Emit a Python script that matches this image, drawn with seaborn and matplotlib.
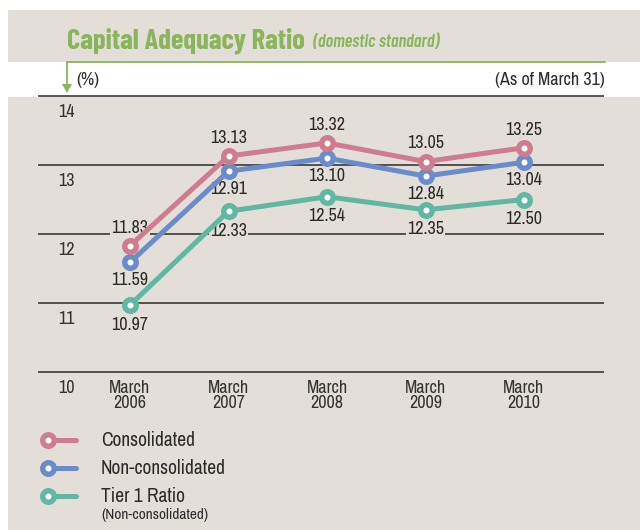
import matplotlib as mpl
import matplotlib.pyplot as plt
import seaborn as sns
import pandas as pd
from matplotlib.lines import Line2D
from matplotlib.patches import Rectangle, Polygon

# values
years = ['March\n2006', 'March\n2007', 'March\n2008', 'March\n2009', 'March\n2010']
consolidated = [11.83, 13.13, 13.32, 13.05, 13.25]
non_consolidated = [11.59, 12.91, 13.10, 12.84, 13.04]
tier1 = [10.97, 12.33, 12.54, 12.35, 12.50]
yticks = [10, 11, 12, 13, 14]

SERIES = ['Consolidated', 'Non-consolidated', 'Tier 1 Ratio']
COLORS = {'Consolidated': '#CF7C8F', 'Non-consolidated': '#6B8BCB', 'Tier 1 Ratio': '#60B7A3'}
BG = '#E3DFD8'
GREEN = '#8AB55C'
TXT = '#2B2B2B'

sns.set_style('white')
plt.rcParams['font.family'] = ['Archivo Narrow', 'DejaVu Sans']
TITLE_FONT = ['Barlow Condensed', 'DejaVu Sans']

rows = []
for name, vals in zip(SERIES, [consolidated, non_consolidated, tier1]):
    for i, v in enumerate(vals):
        rows.append({'x': i, 'value': v, 'series': name})
data = pd.DataFrame(rows)

W, H = 640, 530
fig = plt.figure(figsize=(6.4, 5.3), dpi=100)
fig.patch.set_facecolor('white')


def fx(x):
    return x / W


def fy(y):
    return 1 - y / H


# background bands
fig.add_artist(Rectangle((fx(8), fy(62)), 1, 52 / H, transform=fig.transFigure, fc=BG, ec='none', zorder=0))
fig.add_artist(Rectangle((fx(8), 0), 1, fy(97), transform=fig.transFigure, fc=BG, ec='none', zorder=0))

# title
fig.text(fx(67), fy(48), 'Capital Adequacy Ratio', color=GREEN, fontsize=20.5, fontweight='bold',
         va='baseline', family=TITLE_FONT)
fig.text(fx(313), fy(47), '(domestic standard)', color=GREEN, fontsize=13, fontweight='semibold',
         fontstyle='italic', va='baseline', family=TITLE_FONT)

# green rule with down arrow
fig.add_artist(Line2D([fx(67), fx(605)], [fy(62), fy(62)], transform=fig.transFigure, color=GREEN, lw=1.3))
fig.add_artist(Line2D([fx(67), fx(67)], [fy(62), fy(86)], transform=fig.transFigure, color=GREEN, lw=1.3))
fig.add_artist(Polygon([[fx(62), fy(84)], [fx(72), fy(84)], [fx(67), fy(93)]], closed=True,
                       transform=fig.transFigure, fc=GREEN, ec='none'))
fig.text(fx(76), fy(80), '(%)', color=TXT, fontsize=13, va='center')
fig.text(fx(605), fy(80), '(As of March 31)', color=TXT, fontsize=13, va='center', ha='right')

# plot area: 10 at y=372px, 14 at y=96px; 2006 at x=130px, 98.5px per year
ppu_y = 69.0
ppu_x = 98.5
ax = fig.add_axes([fx(38), fy(374.07), (604 - 38) / W, (374.07 - 93.93) / H])
ax.patch.set_alpha(0)

sns.lineplot(data=data, x='x', y='value', hue='series', hue_order=SERIES[::-1], palette=COLORS,
             marker='o', markersize=8.3, markerfacecolor='white', markeredgewidth=3.9,
             linewidth=3.6, legend=False, ax=ax)
for line in ax.lines:
    line.set_markeredgecolor(line.get_color())
    line.set_solid_capstyle('round')

ax.set_ylim(10 - 2.07 / ppu_y, 14 + 2.07 / ppu_y)
ax.set_xlim(-(130 - 38) / ppu_x, 4 + (604 - 524) / ppu_x)
ax.set_yticks(yticks)
ax.set_yticklabels([])
ax.grid(axis='y', color='#2a2a2a', lw=1.1)
ax.grid(axis='x', visible=False)
ax.set_axisbelow(True)
for s in ax.spines.values():
    s.set_visible(False)
ax.set_xticks(range(len(years)))
ax.set_xticklabels(years, fontsize=13, color='#333333', linespacing=0.95, va='top')
ax.tick_params(axis='both', length=0)
ax.tick_params(axis='x', pad=4)
ax.set_xlabel('')
ax.set_ylabel('')

for t in yticks:
    ax.annotate(str(t), (28 / (604 - 38), t), xycoords=('axes fraction', 'data'),
                xytext=(0, -11.5), textcoords='offset points', ha='center', va='center',
                fontsize=13, color='#333333')

# value labels
offsets = {'Consolidated': 13, 'Non-consolidated': -13, 'Tier 1 Ratio': -14}
for name, vals in zip(SERIES, [consolidated, non_consolidated, tier1]):
    for i, v in enumerate(vals):
        ax.annotate(f'{v:.2f}', (i, v), xytext=(0, offsets[name]), textcoords='offset points',
                    ha='center', va='center', fontsize=13, color=TXT, zorder=1.5,
                    bbox=dict(boxstyle='square,pad=0.08', fc=BG, ec='none'))

# legend
for k, name in enumerate(SERIES):
    y = 440 + 28 * k
    fig.add_artist(Line2D([fx(48), fx(76)], [fy(y), fy(y)], transform=fig.transFigure,
                          color=COLORS[name], lw=3.6, solid_capstyle='round',
                          marker='o', markevery=[0], markersize=8.3, markerfacecolor='white',
                          markeredgewidth=3.9, markeredgecolor=COLORS[name]))
    fig.text(fx(101), fy(y), name, fontsize=14, color=TXT, va='center')
fig.text(fx(101), fy(515), '(Non-consolidated)', fontsize=11, color=TXT, va='center')

fig.savefig('out.png', dpi=100)
